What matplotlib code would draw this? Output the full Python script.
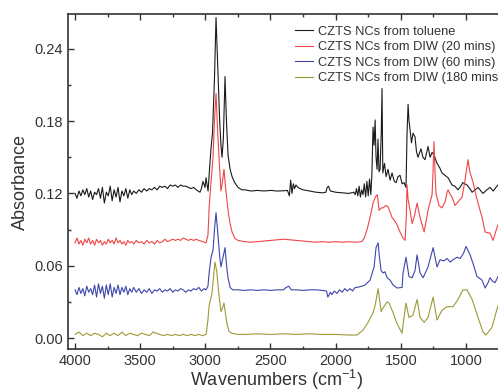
import matplotlib
matplotlib.use("Agg")
import matplotlib.pyplot as plt
from matplotlib.ticker import MultipleLocator

plt.rcParams["font.family"] = ["Liberation Sans", "DejaVu Sans"]
plt.rcParams["mathtext.fontset"] = "custom"
plt.rcParams["mathtext.rm"] = "Liberation Sans"

labels = ["CZTS NCs from toluene", "CZTS NCs from DIW (20 mins)",
          "CZTS NCs from DIW (60 mins)", "CZTS NCs from DIW (180 mins)"]
colors = ["#1a1a1a", "#f04545", "#3d46ab", "#9c9a38"]

# toluene (black)
toluene_wn = [4000, 3985, 3970, 3955, 3940, 3925, 3910, 3895, 3880, 3865, 3850, 3835, 3820, 3805,
              3790, 3775, 3760, 3745, 3730, 3715, 3700, 3685, 3670, 3655, 3640, 3625, 3610, 3595,
              3580, 3565, 3550, 3530, 3510, 3490, 3470, 3450, 3430, 3410, 3390, 3370, 3350, 3330,
              3310, 3290, 3270, 3250, 3230, 3210, 3190, 3170, 3150, 3130, 3110, 3090, 3070, 3041,
              3030, 3018, 3002, 2995, 2979, 2968, 2956, 2945, 2930, 2918, 2905, 2890, 2880, 2872,
              2862, 2849, 2838, 2826, 2810, 2795, 2775, 2749, 2720, 2695, 2650, 2600, 2550, 2500,
              2450, 2400, 2370, 2355, 2345, 2335, 2325, 2315, 2305, 2290, 2273, 2250, 2200, 2150,
              2100, 2075, 2065, 2055, 2040, 2000, 1950, 1900, 1860, 1850, 1840, 1830, 1820, 1810,
              1800, 1790, 1780, 1770, 1760, 1750, 1740, 1730, 1722, 1713, 1705, 1697, 1690, 1682,
              1675, 1667, 1659, 1650, 1644, 1638, 1625, 1613, 1598, 1582, 1567, 1550, 1536, 1521,
              1506, 1490, 1475, 1460, 1452, 1444, 1437, 1429, 1418, 1406, 1391, 1380, 1368, 1345,
              1330, 1314, 1291, 1275, 1260, 1245, 1222, 1200, 1184, 1160, 1137, 1107, 1085, 1061,
              1040, 1023, 992, 970, 953, 930, 907, 885, 869, 840, 815, 790, 770, 754]
toluene_abs = [0.120, 0.116, 0.122, 0.118, 0.123, 0.119, 0.124, 0.117, 0.122, 0.115, 0.121, 0.119,
               0.124, 0.116, 0.125, 0.112, 0.121, 0.118, 0.126, 0.114, 0.123, 0.117, 0.125, 0.113,
               0.122, 0.118, 0.124, 0.116, 0.123, 0.119, 0.122, 0.120, 0.123, 0.121, 0.124, 0.122,
               0.124, 0.123, 0.125, 0.123, 0.126, 0.125, 0.126, 0.124, 0.127, 0.126, 0.127, 0.125,
               0.127, 0.126, 0.126, 0.125, 0.124, 0.125, 0.123, 0.121, 0.124, 0.130, 0.125, 0.133,
               0.122, 0.140, 0.158, 0.170, 0.215, 0.266, 0.225, 0.180, 0.160, 0.150, 0.165, 0.217,
               0.180, 0.152, 0.140, 0.134, 0.129, 0.125, 0.123, 0.123, 0.122, 0.1225, 0.122, 0.1225,
               0.122, 0.1222, 0.1225, 0.118, 0.131, 0.120, 0.128, 0.124, 0.127, 0.125, 0.124, 0.123,
               0.122, 0.121, 0.1205, 0.121, 0.125, 0.126, 0.122, 0.121, 0.1205, 0.120, 0.121, 0.119,
               0.124, 0.118, 0.126, 0.117, 0.123, 0.119, 0.128, 0.117, 0.130, 0.118, 0.132, 0.119,
               0.135, 0.175, 0.160, 0.181, 0.150, 0.140, 0.165, 0.138, 0.140, 0.170, 0.207, 0.137,
               0.145, 0.134, 0.140, 0.131, 0.137, 0.130, 0.129, 0.134, 0.135, 0.128, 0.129, 0.125,
               0.170, 0.194, 0.180, 0.173, 0.162, 0.170, 0.167, 0.155, 0.150, 0.157, 0.150, 0.148,
               0.159, 0.150, 0.154, 0.152, 0.145, 0.141, 0.137, 0.135, 0.133, 0.127, 0.126, 0.123,
               0.126, 0.129, 0.127, 0.124, 0.121, 0.123, 0.125, 0.122, 0.120, 0.123, 0.125, 0.122,
               0.125, 0.127]

# DIW 20 min (red)
diw20_wn = [4000, 3985, 3970, 3955, 3940, 3925, 3910, 3895, 3880, 3865, 3850, 3835, 3820, 3805,
            3790, 3775, 3760, 3745, 3730, 3715, 3700, 3685, 3670, 3655, 3640, 3625, 3610, 3595,
            3580, 3565, 3550, 3530, 3510, 3490, 3470, 3450, 3430, 3410, 3390, 3370, 3350, 3330,
            3310, 3290, 3270, 3250, 3230, 3210, 3190, 3170, 3150, 3130, 3110, 3090, 3070, 3050,
            3020, 2995, 2980, 2970, 2956, 2941, 2930, 2918, 2905, 2890, 2880, 2868, 2857, 2845,
            2834, 2822, 2810, 2795, 2775, 2750, 2700, 2650, 2600, 2550, 2500, 2450, 2400, 2350,
            2300, 2250, 2200, 2150, 2100, 2050, 2000, 1950, 1900, 1850, 1800, 1780, 1759, 1736,
            1713, 1695, 1680, 1667, 1650, 1636, 1615, 1598, 1580, 1567, 1545, 1529, 1506, 1483,
            1467, 1458, 1452, 1444, 1429, 1413, 1398, 1375, 1352, 1321, 1291, 1260, 1252, 1245,
            1238, 1230, 1207, 1184, 1160, 1145, 1137, 1120, 1107, 1084, 1061, 1030, 1010, 995,
            984, 970, 945, 915, 876, 853, 815, 792, 761, 754]
diw20_abs = [0.079, 0.083, 0.078, 0.081, 0.077, 0.082, 0.079, 0.083, 0.078, 0.081, 0.077, 0.082,
             0.079, 0.081, 0.077, 0.080, 0.078, 0.082, 0.079, 0.081, 0.078, 0.083, 0.079, 0.081,
             0.078, 0.080, 0.077, 0.081, 0.079, 0.080, 0.078, 0.081, 0.079, 0.080, 0.078, 0.081,
             0.079, 0.080, 0.078, 0.081, 0.079, 0.080, 0.082, 0.080, 0.081, 0.082, 0.081, 0.082,
             0.081, 0.083, 0.082, 0.081, 0.082, 0.081, 0.082, 0.081, 0.080, 0.079, 0.085, 0.110,
             0.130, 0.150, 0.180, 0.203, 0.170, 0.140, 0.122, 0.130, 0.140, 0.125, 0.114, 0.103,
             0.095, 0.088, 0.083, 0.081, 0.080, 0.0795, 0.080, 0.0805, 0.081, 0.0815, 0.082, 0.0815,
             0.081, 0.0805, 0.080, 0.0795, 0.080, 0.0795, 0.080, 0.0795, 0.080, 0.0795, 0.080, 0.083,
             0.090, 0.100, 0.112, 0.117, 0.119, 0.106, 0.108, 0.108, 0.110, 0.109, 0.104, 0.100,
             0.097, 0.094, 0.088, 0.083, 0.081, 0.100, 0.127, 0.115, 0.106, 0.095, 0.100, 0.112,
             0.100, 0.088, 0.106, 0.119, 0.140, 0.163, 0.140, 0.120, 0.110, 0.108, 0.113, 0.121,
             0.123, 0.119, 0.117, 0.110, 0.113, 0.117, 0.129, 0.140, 0.148, 0.138, 0.129, 0.115,
             0.100, 0.088, 0.087, 0.081, 0.092, 0.094]

# DIW 60 min (blue)
diw60_wn = [4000, 3985, 3970, 3955, 3940, 3925, 3910, 3895, 3880, 3865, 3850, 3835, 3820, 3805,
            3790, 3775, 3760, 3745, 3730, 3715, 3700, 3685, 3670, 3655, 3640, 3625, 3610, 3595,
            3580, 3565, 3550, 3530, 3510, 3490, 3470, 3450, 3430, 3410, 3390, 3370, 3350, 3330,
            3310, 3290, 3270, 3250, 3230, 3210, 3190, 3170, 3150, 3130, 3110, 3090, 3070, 3050,
            3030, 3010, 2995, 2980, 2970, 2956, 2941, 2930, 2918, 2905, 2890, 2880, 2868, 2849,
            2835, 2826, 2810, 2790, 2750, 2700, 2650, 2600, 2550, 2500, 2450, 2400, 2380, 2360,
            2340, 2300, 2250, 2200, 2150, 2100, 2070, 2060, 2050, 2040, 2030, 2010, 1990, 1970,
            1950, 1930, 1910, 1890, 1870, 1850, 1836, 1800, 1774, 1736, 1705, 1690, 1674, 1665,
            1651, 1636, 1621, 1605, 1582, 1559, 1529, 1490, 1483, 1460, 1437, 1413, 1391, 1375,
            1352, 1329, 1291, 1252, 1222, 1199, 1170, 1145, 1120, 1099, 1068, 1045, 1020, 999,
            968, 940, 915, 876, 853, 830, 815, 795, 776, 754]
diw60_abs = [0.040, 0.036, 0.042, 0.037, 0.041, 0.035, 0.043, 0.038, 0.041, 0.036, 0.044, 0.034,
             0.045, 0.037, 0.043, 0.033, 0.044, 0.036, 0.045, 0.034, 0.042, 0.037, 0.044, 0.036,
             0.042, 0.038, 0.043, 0.036, 0.041, 0.038, 0.042, 0.038, 0.041, 0.037, 0.040, 0.038,
             0.041, 0.037, 0.040, 0.039, 0.041, 0.038, 0.040, 0.039, 0.041, 0.038, 0.040, 0.039,
             0.041, 0.040, 0.038, 0.040, 0.039, 0.041, 0.040, 0.042, 0.039, 0.041, 0.040, 0.043,
             0.055, 0.067, 0.073, 0.090, 0.104, 0.088, 0.068, 0.059, 0.065, 0.075, 0.058, 0.050,
             0.042, 0.040, 0.040, 0.0395, 0.040, 0.0395, 0.040, 0.0395, 0.040, 0.040, 0.042, 0.043,
             0.040, 0.040, 0.0395, 0.040, 0.040, 0.0395, 0.039, 0.034, 0.036, 0.038, 0.036, 0.039,
             0.037, 0.040, 0.038, 0.041, 0.039, 0.041, 0.039, 0.042, 0.042, 0.043, 0.044, 0.048,
             0.059, 0.075, 0.079, 0.068, 0.056, 0.054, 0.055, 0.050, 0.048, 0.044, 0.0415, 0.042,
             0.054, 0.067, 0.051, 0.050, 0.056, 0.069, 0.054, 0.050, 0.059, 0.075, 0.059, 0.065,
             0.064, 0.066, 0.063, 0.065, 0.067, 0.066, 0.070, 0.076, 0.069, 0.060, 0.051, 0.048,
             0.0415, 0.046, 0.050, 0.047, 0.046, 0.051]

# DIW 180 min (olive)
diw180_wn = [4000, 3970, 3940, 3910, 3880, 3850, 3820, 3790, 3760, 3730, 3700, 3670, 3640, 3610,
             3580, 3550, 3520, 3490, 3460, 3430, 3400, 3380, 3350, 3320, 3290, 3260, 3230, 3200,
             3170, 3140, 3110, 3080, 3050, 3020, 2995, 2990, 2980, 2972, 2960, 2949, 2938, 2926,
             2912, 2895, 2880, 2868, 2857, 2845, 2834, 2820, 2800, 2750, 2700, 2600, 2500, 2400,
             2300, 2200, 2100, 2000, 1900, 1836, 1790, 1751, 1713, 1697, 1674, 1651, 1636, 1605,
             1590, 1559, 1529, 1490, 1483, 1460, 1437, 1406, 1375, 1352, 1321, 1291, 1252, 1222,
             1184, 1145, 1099, 1061, 1023, 992, 953, 907, 869, 846, 800, 754]
diw180_abs = [0.003, 0.005, 0.002, 0.004, 0.002, 0.004, 0.003, 0.001, 0.004, 0.002, 0.004, 0.002,
              0.005, 0.002, 0.004, 0.003, 0.002, 0.004, 0.003, 0.002, 0.005, 0.004, 0.003, 0.002,
              0.003, 0.002, 0.003, 0.002, 0.003, 0.002, 0.003, 0.002, 0.003, 0.002, 0.003, 0.006,
              0.015, 0.026, 0.032, 0.037, 0.050, 0.063, 0.055, 0.035, 0.022, 0.025, 0.029, 0.020,
              0.012, 0.006, 0.004, 0.003, 0.003, 0.0035, 0.003, 0.0035, 0.003, 0.0035, 0.003, 0.003,
              0.0025, 0.0025, 0.0066, 0.013, 0.021, 0.027, 0.041, 0.022, 0.025, 0.030, 0.029, 0.021,
              0.012, 0.004, 0.011, 0.029, 0.017, 0.019, 0.032, 0.017, 0.013, 0.017, 0.034, 0.015,
              0.023, 0.026, 0.026, 0.032, 0.040, 0.040, 0.032, 0.017, 0.005, 0.0025, 0.009, 0.027]

fig = plt.figure(figsize=(4.98, 3.91), dpi=100)
ax = fig.add_axes([68 / 498, 1 - 349 / 391, 430 / 498, 335 / 391])

series = [(toluene_wn, toluene_abs), (diw20_wn, diw20_abs),
          (diw60_wn, diw60_abs), (diw180_wn, diw180_abs)]
for (wn, ab), lab, col in zip(series, labels, colors):
    ax.plot(wn, ab, color=col, lw=0.8, label=lab)

ax.set_xlim(4054, 754)
ax.set_ylim(-0.0091, 0.2689)
ax.xaxis.set_major_locator(MultipleLocator(500))
ax.xaxis.set_minor_locator(MultipleLocator(250))
ax.yaxis.set_major_locator(MultipleLocator(0.06))
ax.yaxis.set_minor_locator(MultipleLocator(0.03))
ax.yaxis.set_major_formatter(plt.FormatStrFormatter("%.2f"))

edge = "#333333"
for side in ["left", "bottom", "top"]:
    ax.spines[side].set_color(edge)
    ax.spines[side].set_linewidth(1.2)
ax.spines["right"].set_visible(False)
ax.tick_params(which="both", direction="in", top=True, right=False, colors=edge,
               labelsize=10.5, labelcolor="#333333")
ax.tick_params(which="major", length=4.5, width=1.0)
ax.tick_params(which="minor", length=2.5, width=1.0)

ax.set_xlabel("Wavenumbers (cm$^{-1}$)", fontsize=13, color="#333333")
ax.set_ylabel("Absorbance", fontsize=13, color="#333333")
ax.xaxis.set_label_coords(0.486, -0.055)

# legend runs past the right edge, as in the original
fig.legend(loc="upper left", bbox_to_anchor=(295 / 498, 1 - 25.5 / 391), frameon=False,
           fontsize=9.3, borderpad=0, borderaxespad=0, handlelength=1.4, handletextpad=0.4,
           labelspacing=0.27, labelcolor="#333333")

fig.savefig("out.png", dpi=100)
